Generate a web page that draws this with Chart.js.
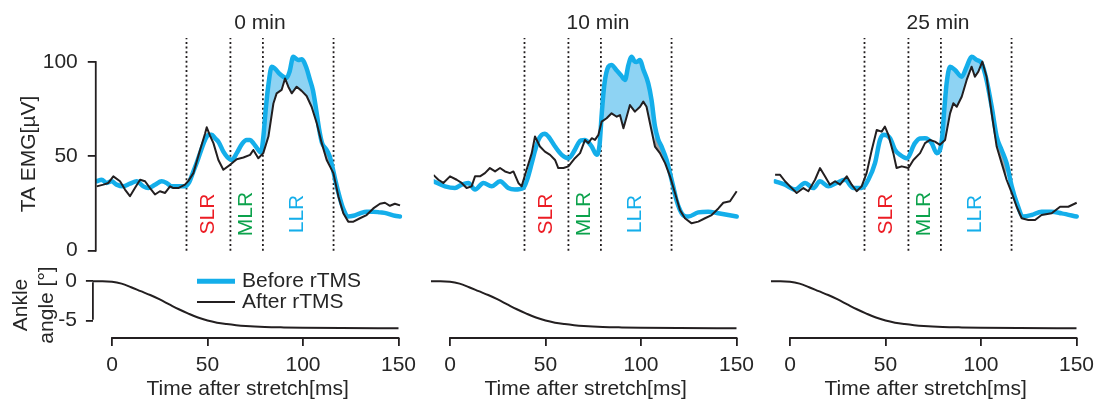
<!DOCTYPE html>
<html><head><meta charset="utf-8">
<script src="https://cdn.jsdelivr.net/npm/chart.js@4/dist/chart.umd.min.js"></script>
<style>
html,body{margin:0;padding:0;background:#fff;}
#fig{position:relative;width:1096px;height:402px;overflow:hidden;background:#fff;}
</style></head><body><div id="fig"></div>
<script>
// ---------- data ----------
const panelTitles = ['0 min', '10 min', '25 min'];
const regionLabels = ['SLR', 'MLR', 'LLR'];
const regionLabelTimes = [50.5, 70.5, 97];
const windowBounds = [39, 62, 79, 116];
const emgTicks = [0, 50, 100];
const angleTicks = [0, -5];
const timeTicks = [0, 50, 100, 150];
const legendLabels = ['Before rTMS', 'After rTMS'];
const emgAxisTitle = 'TA EMG[µV]';
const angleAxisTitle = ['Ankle', 'angle [°]'];
const timeAxisTitle = 'Time after stretch[ms]';

// 0 min
const before0T = [-8.0,-5.4,-2.8,-0.2,2.4,5.9,9.4,12.9,16.4,19.0,22.5,26.0,28.6,31.2,34.7,38.2,40.5,42.6,44.5,46.1,48.7,50.5,52.2,54.0,55.7,58.3,60.5,62.7,65.3,68.0,70.5,72.3,74.0,76.6,78.0,79.2,80.5,81.9,83.6,85.3,87.5,89.7,91.4,93.0,94.9,96.7,97.6,99.3,101.9,103.5,105.2,107.0,108.5,110.0,112.0,114.0,115.5,117.0,119.0,121.0,123.7,126.4,129.8,133.3,136.8,140.3,143.8,148.1,150.8];
const before0V = [36.8,37.6,35.9,36.8,35.0,34.1,35.5,36.8,34.1,33.2,35.0,36.8,35.9,34.1,34.1,34.1,36.5,42.0,47.0,51.7,58.7,61.4,61.4,59.5,57.8,52.5,49.5,48.1,51.7,56.5,58.7,58.7,57.0,53.4,52.0,60.0,75.0,88.0,97.5,96.5,94.0,92.2,91.5,95.0,102.8,101.5,101.1,101.5,96.6,91.0,85.0,74.0,64.0,57.0,54.0,50.0,44.0,37.0,29.0,22.4,18.1,18.5,19.8,20.7,20.7,20.3,19.8,18.5,18.1];
const after0T = [-8.0,-4.5,-1.9,0.7,4.2,6.8,9.4,12.0,14.7,17.3,19.9,22.5,25.1,27.8,30.4,32.1,34.7,38.2,40.0,42.6,46.1,48.7,49.6,51.3,53.1,55.7,58.3,61.8,65.3,68.8,72.3,74.0,76.6,79.2,81.9,84.5,86.2,88.8,90.6,92.3,94.1,96.7,99.3,101.9,104.5,107.2,109.8,112.4,114.1,115.9,118.5,121.1,123.7,126.4,129.8,133.3,136.8,140.3,142.9,145.5,148.1,150.8];
const after0V = [34.1,35.0,35.9,39.4,36.8,32.4,28.9,33.2,37.6,36.8,33.2,29.8,31.5,30.6,34.1,33.2,33.2,35.0,37.0,41.1,53.4,62.0,65.4,61.0,57.0,48.1,42.9,45.5,48.5,49.4,50.8,53.4,49.0,51.7,60.5,78.0,83.4,85.2,91.3,86.9,83.4,86.9,84.7,82.0,76.3,67.5,57.0,48.1,44.7,41.1,28.9,19.8,15.4,15.4,17.2,18.9,22.4,24.9,25.4,23.8,24.9,24.0];
// 10 min
const before1T = [-8.7,-2.6,2.6,6.1,9.6,13.1,17.5,21.8,26.2,30.5,34.0,38.4,40.5,42.8,44.5,46.3,48.0,49.7,51.5,55.0,58.5,62.0,65.4,67.2,68.5,70.7,72.4,74.2,76.8,78.3,79.4,80.8,82.9,84.5,87.3,89.5,91.6,93.4,95.1,96.5,97.7,99.5,101.2,103.8,105.5,107.3,109.0,110.8,113.4,115.2,116.9,118.5,120.4,122.5,124.8,130.0,135.2,140.5,145.7,150.1];
const before1V = [36.8,34.1,33.2,35.0,35.9,32.4,35.9,34.1,36.8,33.2,32.4,33.2,38.0,46.4,53.0,58.7,61.4,62.0,60.5,55.2,50.8,49.0,53.5,57.0,58.5,58.7,57.5,55.2,50.8,56.0,72.0,88.0,97.5,98.4,95.5,93.0,90.5,98.4,102.8,100.5,100.0,101.0,96.0,88.7,80.0,66.0,59.0,55.1,48.1,41.0,33.9,27.0,21.6,18.5,18.1,20.3,20.7,19.8,18.9,18.1];
const after1T = [-8.7,-6.1,-3.5,0.0,3.5,6.1,8.7,11.3,13.1,15.7,18.3,20.9,23.6,26.2,28.8,31.4,33.2,35.8,37.5,40.1,42.8,44.5,47.1,49.7,52.4,55.0,56.7,59.4,62.0,65.4,68.1,70.7,72.4,74.2,75.9,77.7,79.4,82.0,84.6,87.3,89.0,90.8,92.5,94.2,96.8,99.5,101.2,102.9,104.7,107.3,109.9,112.6,115.2,117.8,120.4,123.0,126.5,130.0,133.5,137.0,140.5,143.1,146.6,150.1];
const after1V = [40.2,37.6,35.9,39.4,37.6,35.9,33.2,34.1,39.4,39.4,41.1,43.8,42.0,43.8,42.0,41.1,42.0,35.9,34.1,42.9,51.7,60.5,55.2,52.5,50.8,48.1,43.8,43.8,44.7,49.0,51.7,58.7,57.0,59.6,58.7,61.4,68.4,70.2,72.8,71.0,71.9,64.9,71.0,77.2,73.7,76.3,79.0,76.3,67.5,55.2,51.7,46.4,39.4,30.6,21.6,17.2,14.5,15.4,17.2,18.9,22.4,25.4,26.2,31.5];
// 25 min
const before2T = [-7.8,-2.6,2.6,7.9,12.2,15.7,20.1,24.4,28.8,33.2,37.5,41.0,44.5,47.1,48.9,52.4,55.0,57.6,61.1,65.4,68.0,70.7,74.2,76.8,79.4,80.8,82.0,83.8,86.4,89.9,92.5,95.1,97.7,100.3,102.9,105.6,108.2,110.8,113.4,116.1,118.7,122.1,126.5,131.7,137.0,142.2,150.1];
const before2V = [36.8,35.0,32.4,35.9,33.2,36.8,34.1,35.9,37.6,33.2,33.2,37.6,46.4,58.7,61.4,59.6,53.4,50.8,49.0,57.0,59.5,59.6,57.0,51.7,57.8,75.0,88.7,97.5,95.8,92.2,97.5,102.8,101.1,99.3,90.5,76.3,60.5,53.4,46.4,34.1,25.4,18.1,18.9,20.7,20.7,19.8,18.1];
const after2T = [-7.8,-5.2,-2.6,0.0,3.5,7.0,9.6,13.1,15.7,18.3,20.9,23.6,26.2,29.7,32.3,34.9,37.5,40.1,42.8,45.4,48.0,49.7,51.5,54.1,55.8,58.5,62.0,64.6,68.1,70.7,73.3,75.9,78.5,81.2,83.8,85.5,87.3,89.9,92.5,95.1,96.8,98.6,100.7,102.9,105.6,108.2,110.8,113.4,116.1,118.7,121.3,124.8,128.3,131.7,137.0,141.4,145.7,150.1];
const after2V = [40.2,40.2,36.8,34.1,30.6,33.2,31.5,37.6,43.8,39.4,35.0,36.8,35.0,39.4,35.0,31.5,34.1,41.1,53.4,64.0,63.1,65.8,61.4,51.7,43.8,44.7,43.8,48.1,51.7,57.0,58.7,57.8,56.1,58.7,72.8,78.1,76.3,81.6,90.5,97.5,92.2,94.9,100.2,92.2,72.8,55.2,46.4,37.6,30.6,23.3,17.2,16.3,16.3,18.9,19.8,23.3,23.3,25.4];
// ankle angle (same in every panel)
const angleT = [-10,-5,0,5,10,15,20,25,30,35,40,45,50,55,60,65,70,80,90,100,120,150];
const angleV = [0,0,-0.05,-0.3,-0.75,-1.25,-1.74,-2.3,-2.93,-3.55,-4.1,-4.6,-4.98,-5.25,-5.43,-5.57,-5.67,-5.79,-5.85,-5.89,-5.93,-5.96];

const beforeT = [before0T, before1T, before2T], beforeV = [before0V, before1V, before2V];
const afterT = [after0T, after1T, after2T], afterV = [after0V, after1V, after2V];

// ---------- styling / layout ----------
const INK = '#231f20', TXT = '#262626', BLUE = '#14aeea', FILLB = '#8ed3f3', FILLG = '#a3a3a3';
const regionColors = ['#ec1c24', '#0ca24c', '#14aeea'];
const FAM = "'Liberation Sans', Arial, Helvetica, sans-serif";
const FS = 21;
Chart.defaults.font.family = FAM;
Chart.defaults.font.size = FS;
Chart.defaults.color = TXT;

const K = 1.91;            // px per ms
const X0 = [112, 450, 790]; // page x of t=0
const EMG_MIN = -10.23, EMG_MAX = 112.72;
const ANG_MIN = -7.195, ANG_MAX = 1.18;
const fig = document.getElementById('fig');
const TRANSP = 'rgba(0,0,0,0)';

const pts = (T, V) => T.map((t, i) => ({x: t, y: V[i]}));
function splitWindows(T, V, a, m, b) {
  const p = pts(T, V);
  const i0 = p.findIndex(q => q.x >= a);
  let im = p.findIndex(q => q.x > m); if (im < 0) im = p.length;
  let i1 = p.findIndex(q => q.x > b); if (i1 < 0) i1 = p.length;
  return [p.slice(i0, im), p.slice(im - 1, i1)];
}

function makeCanvas(left, top, width, height) {
  const c = document.createElement('canvas');
  c.width = width; c.height = height;
  c.style.cssText = `position:absolute;left:${left}px;top:${top}px;width:${width}px;height:${height}px;`;
  fig.appendChild(c);
  return c;
}

function noPad(s) { s.paddingTop = 0; s.paddingBottom = 0; s.paddingLeft = 0; s.paddingRight = 0; }

const annotPlugin = {
  id: 'annot',
  afterDraw(chart, args, opts) {
    const ctx = chart.ctx, xs = chart.scales.x, ys = chart.scales.y, ca = chart.chartArea;
    ctx.save();
    ctx.strokeStyle = INK; ctx.lineWidth = 1.8; ctx.lineCap = 'butt';
    if (opts.frameY) {
      ctx.beginPath();
      ctx.moveTo(ca.left, ys.getPixelForValue(opts.frameY[0]) + 0.9);
      ctx.lineTo(ca.left, ys.getPixelForValue(opts.frameY[1]) - 0.9);
      ctx.stroke();
    }
    if (opts.frameX) {
      ctx.beginPath();
      ctx.moveTo(xs.getPixelForValue(opts.frameX[0]) - 0.9, ca.bottom);
      ctx.lineTo(xs.getPixelForValue(opts.frameX[1]) + 0.9, ca.bottom);
      ctx.stroke();
    }
    (opts.keys || []).forEach(k => {
      ctx.beginPath(); ctx.strokeStyle = k.color; ctx.lineWidth = k.w;
      const y = ys.getPixelForValue(k.y);
      ctx.moveTo(xs.getPixelForValue(k.x0), y); ctx.lineTo(xs.getPixelForValue(k.x1), y);
      ctx.stroke();
    });
    ctx.font = FS + 'px ' + FAM;
    (opts.texts || []).forEach(t => {
      ctx.save();
      ctx.fillStyle = t.color || TXT;
      ctx.textAlign = t.align || 'center';
      ctx.textBaseline = 'middle';
      const px = xs.getPixelForValue(t.x);
      const py = t.yPx !== undefined ? t.yPx : ys.getPixelForValue(t.y);
      ctx.translate(px, py);
      if (t.rot) ctx.rotate(t.rot);
      ctx.fillText(t.text, 0, 0);
      ctx.restore();
    });
    ctx.restore();
  }
};

const axisGrid = len => ({drawOnChartArea: false, drawTicks: true, tickLength: len, color: INK, lineWidth: 1.8});

for (let i = 0; i < 3; i++) {
  // ---------- EMG chart ----------
  {
    const cl = X0[i] - 8.5 * K, cr = X0[i] + 152 * K;
    const L = i === 0 ? 0 : Math.floor(cl - 5);
    const yW = i === 0 ? cl - L : 0;
    const W = Math.ceil(cr + 10 - L);
    const H = 280;
    const canvas = makeCanvas(L, 0, W, H);
    const [blueWin, greyWin] = splitWindows(beforeT[i], beforeV[i], 79, 108, 116);
    const datasets = [
      {label: legendLabels[1], data: pts(afterT[i], afterV[i]), borderColor: INK, borderWidth: 2,
       pointRadius: 0, order: 0, fill: false, borderJoinStyle: 'round'},
      {label: legendLabels[0], data: pts(beforeT[i], beforeV[i]), borderColor: BLUE, borderWidth: 4.5,
       pointRadius: 0, order: 1, fill: false, cubicInterpolationMode: 'monotone',
       borderJoinStyle: 'round', borderCapStyle: 'round'},
      {data: blueWin, borderColor: TRANSP, borderWidth: 1, pointRadius: 0, order: 3,
       cubicInterpolationMode: 'monotone', fill: {target: 0, above: FILLB, below: TRANSP}},
      {data: greyWin, borderColor: TRANSP, borderWidth: 1, pointRadius: 0, order: 3,
       cubicInterpolationMode: 'monotone', fill: {target: 0, above: FILLG, below: TRANSP}},
      ...windowBounds.map(b => ({data: [{x: b, y: 0}, {x: b, y: EMG_MAX}], borderColor: INK,
        borderWidth: 1.8, borderDash: [2, 2.7], pointRadius: 0, order: 2, fill: false}))
    ];
    const texts = [{text: panelTitles[i], x: 77.5, yPx: 23}].concat(
      regionLabels.map((r, j) => ({text: r, x: regionLabelTimes[j], y: 19.45, rot: -Math.PI / 2, color: regionColors[j]})));
    new Chart(canvas, {
      type: 'line',
      data: {datasets},
      plugins: [annotPlugin],
      options: {
        responsive: false, animation: false, devicePixelRatio: 1, events: [],
        layout: {autoPadding: false, padding: {left: cl - L - yW, right: W - (cr - L), top: 38, bottom: 10}},
        plugins: {legend: {display: false}, tooltip: {enabled: false},
          annot: {frameY: i === 0 ? [0, 100] : null, texts}},
        scales: {
          x: {type: 'linear', min: -8.5, max: 152, display: false, afterFit: noPad},
          y: {type: 'linear', min: EMG_MIN, max: EMG_MAX, display: i === 0,
            afterFit: s => { s.width = yW; noPad(s); },
            afterBuildTicks: s => { s.ticks = emgTicks.map(v => ({value: v})); },
            grid: axisGrid(8), border: {display: false},
            ticks: {padding: 10, color: TXT},
            title: {display: true, text: emgAxisTitle, color: TXT, padding: {top: 17, bottom: 0}}}
        }
      }
    });
  }
  // ---------- ankle angle chart ----------
  {
    const cl = X0[i] - 10 * K, cr = X0[i] + 152 * K;
    const L = i === 0 ? 0 : Math.floor(cl - 5);
    const yW = i === 0 ? cl - L : 0;
    const W = Math.ceil(cr + 25 - L);
    const H = 140;
    const canvas = makeCanvas(L, 262, W, H);
    const keys = i === 0 ? [
      {x0: 44.5, x1: 64.4, y: 0, color: BLUE, w: 5},
      {x0: 44.5, x1: 64.4, y: -2.63, color: INK, w: 2}] : [];
    const texts = i === 0 ? [
      {text: legendLabels[0], x: 68.1, y: 0, align: 'left'},
      {text: legendLabels[1], x: 68.1, y: -2.63, align: 'left'}] : [];
    new Chart(canvas, {
      type: 'line',
      data: {datasets: [{data: pts(angleT, angleV), borderColor: INK, borderWidth: 2, pointRadius: 0,
        cubicInterpolationMode: 'monotone', fill: false}]},
      plugins: [annotPlugin],
      options: {
        responsive: false, animation: false, devicePixelRatio: 1, events: [],
        layout: {autoPadding: false, padding: {left: cl - L - yW, right: W - (cr - L), top: 10, bottom: 0}},
        plugins: {legend: {display: false}, tooltip: {enabled: false},
          annot: {frameX: [0, 150], frameY: i === 0 ? [0, -5] : null, keys, texts}},
        scales: {
          x: {type: 'linear', min: -10, max: 152, position: 'bottom',
            afterFit: s => { s.height = 64; noPad(s); },
            afterBuildTicks: s => { s.ticks = timeTicks.map(v => ({value: v})); },
            grid: axisGrid(8), border: {display: false},
            ticks: {padding: 7, color: TXT, maxRotation: 0, autoSkip: false},
            title: {display: true, text: timeAxisTitle, color: TXT, padding: {top: 0, bottom: 0}}},
          y: {type: 'linear', min: ANG_MIN, max: ANG_MAX, display: i === 0,
            afterFit: s => { s.width = yW; noPad(s); },
            afterBuildTicks: s => { s.ticks = angleTicks.map(v => ({value: v})); },
            grid: axisGrid(7), border: {display: false},
            ticks: {padding: 9, color: TXT},
            title: {display: true, text: angleAxisTitle, color: TXT, padding: {top: 9, bottom: 0}}}
        }
      }
    });
  }
}
</script>
</body></html>
